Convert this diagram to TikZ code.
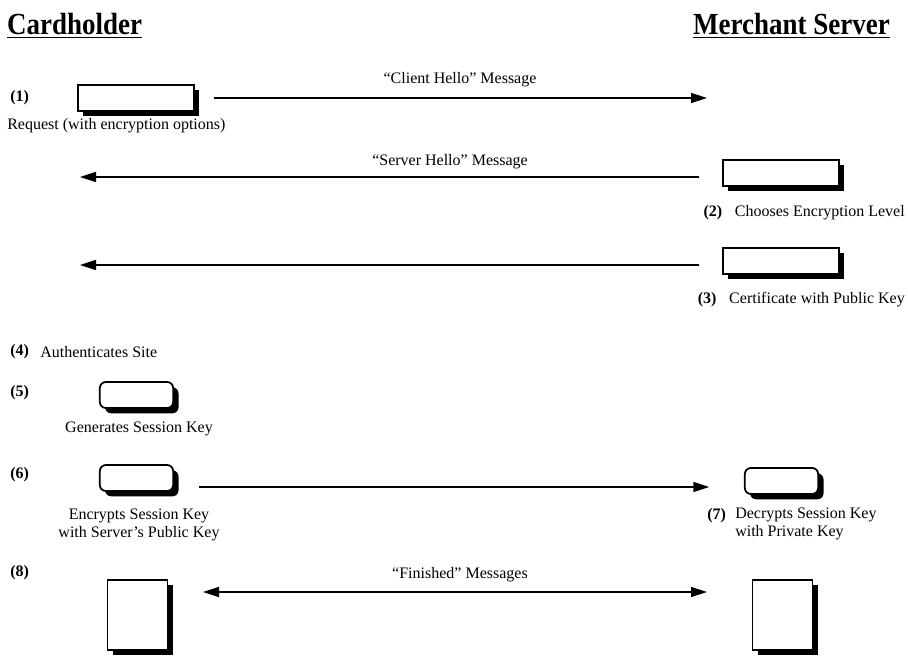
\documentclass[tikz,border=0pt]{standalone}
\usepackage{fontspec}
\setmainfont{Liberation Serif}
\usetikzlibrary{arrows.meta,shadows}
\begin{document}
\begin{tikzpicture}[x=0.75pt,y=-0.75pt,
  txt/.style={font=\fontsize{12}{13.5}\selectfont, inner sep=0pt},
  num/.style={font=\fontsize{12}{13.5}\selectfont\bfseries, inner sep=0pt, anchor=west},
  title/.style={font=\fontsize{23}{26}\selectfont\bfseries, inner sep=0pt, xscale=0.88},
  card/.style={draw, line width=1.3pt, fill=white, inner sep=0pt,
    general shadow={fill=black, shadow xshift=4pt, shadow yshift=-4pt}},
  wide/.style={card, minimum width=87pt, minimum height=19.5pt},
  keybox/.style={card, rounded corners=4.5pt, minimum width=55pt, minimum height=19.5pt},
  page/.style={card, minimum width=45pt, minimum height=52.5pt},
  tip/.tip={Triangle[length=12pt,width=7.5pt]},
  arr/.style={line width=1.1pt, -tip},
  darr/.style={line width=1.1pt, tip-tip}]
\useasboundingbox (0,0) rectangle (908,656);

% column headings
\node[title, anchor=base west] (hc) at (7,35) {\underline{Cardholder}};
\node[title, anchor=base east] (hm) at (890,35) {\underline{Merchant Server}};

% (1) client hello
\node[num] (n1) at (10,98) {(1)};
\node[wide] (b1) at (136,98) {};
\node[txt, anchor=west] (t1) at (7,126) {Request (with encryption options)};
\coordinate (e1) at (707,98);
\draw[arr] ([xshift=14pt]b1.east |- e1) -- (e1);
\node[txt] (m1) at (460,80) {\textquotedblleft Client Hello\textquotedblright\ Message};

% (2) server hello
\node[wide] (b2) at (781,173) {};
\node[txt, anchor=east] (t2) at (905,213) {\textbf{(2)}\hspace{0.8em}Chooses Encryption Level};
\coordinate (e2) at (80,177);
\draw[arr] ([xshift=-17pt]b2.west |- e2) -- (e2);
\node[txt] (m2) at (450,162) {\textquotedblleft Server Hello\textquotedblright\ Message};

% (3) certificate
\node[wide] (b3) at (781,261) {};
\node[txt, anchor=east] (t3) at (905,300) {\textbf{(3)}\hspace{0.8em}Certificate with Public Key};
\coordinate (e3) at (80,265);
\draw[arr] ([xshift=-17pt]b3.west |- e3) -- (e3);

% (4) authentication
\node[num] (n4) at (10,352) {(4)};
\node[txt, anchor=west] (t4) at (40,352) {Authenticates Site};

% (5) session key
\node[num] (n5) at (10,393) {(5)};
\node[keybox] (b5) at (136.5,395) {};
\node[txt] (t5) at (139,429) {Generates Session Key};

% (6) and (7) key exchange
\node[num] (n6) at (10,475) {(6)};
\node[keybox] (b6) at (136.5,478) {};
\node[txt, align=center] (t6) at (139,525) {Encrypts Session Key\\with Server\textquoteright s Public Key};
\node[keybox] (b7) at (781.5,481) {};
\node[num] (n7) at (707,516) {(7)};
\node[txt, anchor=north west, align=left] (t7) at (735,508) {Decrypts Session Key\\with Private Key};
\coordinate (l6) at (0,487);
\draw[arr] ([xshift=19pt]b6.east |- l6) -- ([xshift=-26pt]b7.west |- l6);

% (8) finished
\node[num] (n8) at (10,573) {(8)};
\node[page] (b8) at (137.5,615) {};
\node[page] (b9) at (782.5,615) {};
\coordinate (s8) at (203,592);
\coordinate (e8) at (707,592);
\draw[darr] (s8) -- (e8);
\node[txt] (m8) at (460,575) {\textquotedblleft Finished\textquotedblright\ Messages};
\end{tikzpicture}
\end{document}
